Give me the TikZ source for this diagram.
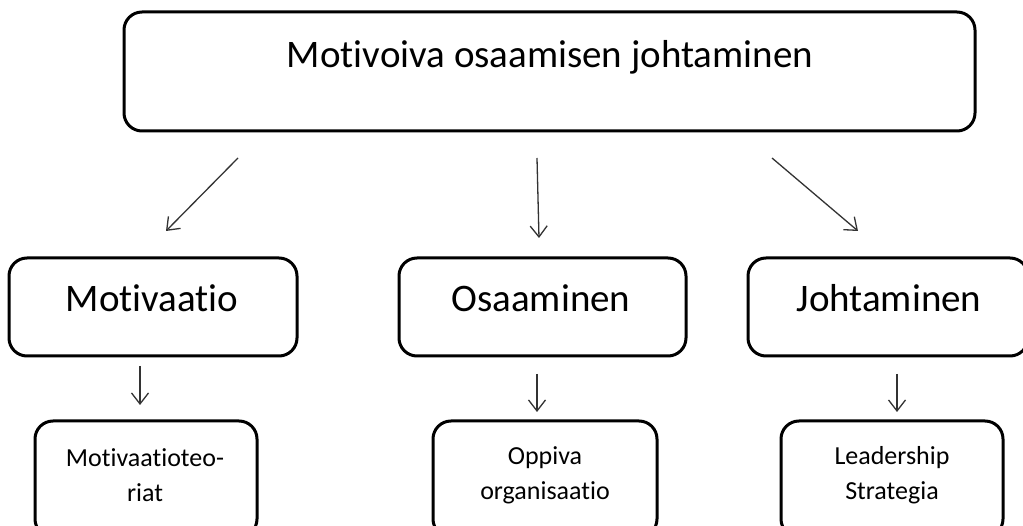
\documentclass[tikz,border=0pt]{standalone}
\usepackage{fontspec}
\setmainfont[Ligatures=NoCommon]{Carlito}
\usetikzlibrary{arrows.meta}
\tikzset{
  box/.style={draw=black, line width=3pt, rounded corners=18pt, fill=white},
  conn/.style={draw=black!80, line width=1.3pt, -{Straight Barb[length=11pt,width=17pt,line width=1.3pt]}},
  bigtext/.style={font=\fontsize{39}{44}\selectfont, inner sep=0pt},
  smalltext/.style={font=\fontsize{26}{35}\selectfont, inner sep=0pt, align=center}
}
\begin{document}
\begin{tikzpicture}[x=1pt,y=-1pt]
\clip (0,0) rectangle (1023,526);
\fill[white] (0,0) rectangle (1023,526);

% top box
\node[box, minimum width=851pt, minimum height=119pt] (top) at (549.5,71.5) {};
\node[bigtext] (toptxt) at (550,57) {Motivoiva osaamisen johtaminen};

% second row
\node[box, minimum width=288pt, minimum height=98pt] (mot) at (153,307) {};
\node[bigtext] (mottxt) at (152,298) {Motivaatio};
\node[box, minimum width=287pt, minimum height=98pt] (osa) at (542.5,307) {};
\node[bigtext] (osatxt) at (541,298) {Osaaminen};
\node[box, minimum width=280pt, minimum height=98pt] (joh) at (888,307) {};
\node[bigtext] (johtxt) at (889,298) {Johtaminen};

% third row
\node[box, minimum width=222pt, minimum height=116pt] (teo) at (146,479) {};
\node[smalltext] (teotxt) at (145,475) {Motivaatioteo-\\riat};
\node[box, minimum width=224pt, minimum height=116pt] (opp) at (545,479) {};
\node[smalltext] (opptxt) at (545,475) {Oppiva\\organisaatio};
\node[box, minimum width=222pt, minimum height=116pt] (lea) at (892,479) {};
\node[smalltext] (leatxt) at (892,475) {Leadership\\Strategia};

% connector end points
\coordinate (a1s) at (238,158); \coordinate (a1e) at (166,231);
\coordinate (a2s) at (537,158); \coordinate (a2e) at (539,238);
\coordinate (a3s) at (772,158); \coordinate (a3e) at (858,231);
\coordinate (b1s) at (140,366); \coordinate (b1e) at (140,405);
\coordinate (b2s) at (537,374); \coordinate (b2e) at (537,412);
\coordinate (b3s) at (897,374); \coordinate (b3e) at (897,412);

\draw[conn] (a1s) -- (a1e);
\draw[conn] (a2s) -- (a2e);
\draw[conn] (a3s) -- (a3e);
\draw[conn] (b1s) -- (b1e);
\draw[conn] (b2s) -- (b2e);
\draw[conn] (b3s) -- (b3e);
\end{tikzpicture}
\end{document}
